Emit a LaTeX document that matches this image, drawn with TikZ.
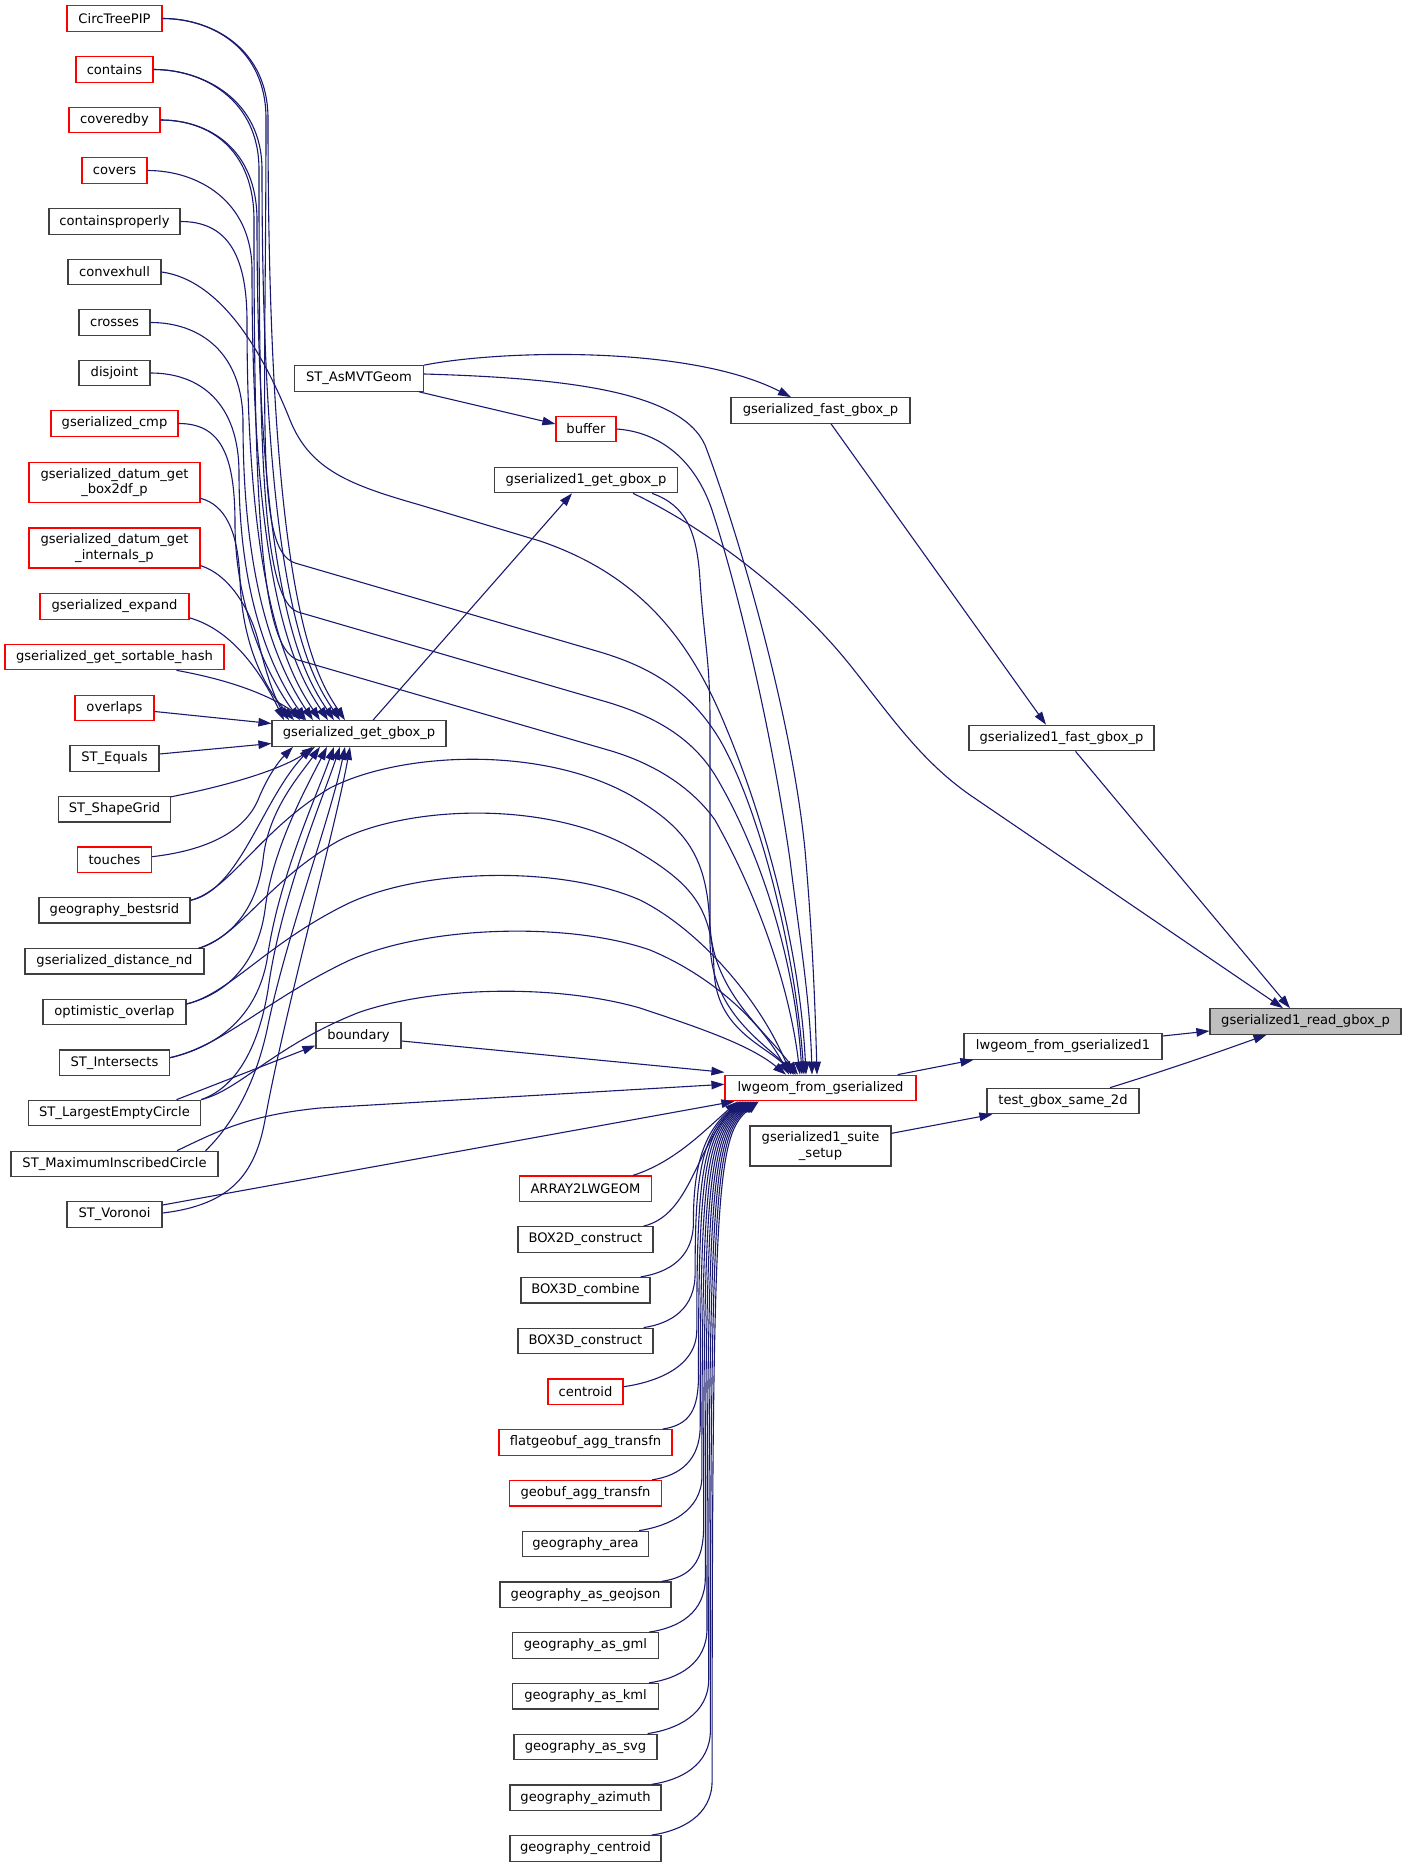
\documentclass[tikz,border=0pt]{standalone}
\usepackage{fontspec}
\setmainfont{DejaVu Sans}
\usetikzlibrary{arrows.meta,calc}
\definecolor{edgecol}{HTML}{191970}
\definecolor{nodeline}{HTML}{404040}
\definecolor{rootfill}{HTML}{BFBFBF}
\definecolor{truncred}{HTML}{FF0000}
\begin{document}
\begin{tikzpicture}[x=1pt,y=-1pt,
 fn/.style={rectangle, draw=nodeline, fill=white, line width=1.2pt, inner sep=0pt,
   minimum height=25.5pt, align=center, font=\fontsize{13.1pt}{15.5pt}\selectfont},
 fnr/.style={fn, draw=truncred},
 fnroot/.style={fn, fill=rootfill},
 two/.style={minimum height=40pt},
 calledge/.style={draw=edgecol, line width=1.1pt, -{Triangle[length=13pt,width=8.5pt]}}]
\useasboundingbox (0,0) rectangle (1407,1867);
% ---------- left column
\node[fnr, minimum width=95pt] (circ) at (114.5,18.5) {CircTreePIP};
\node[fnr, minimum width=77pt] (contains) at (114.5,69.5) {contains};
\node[fnr, minimum width=91pt] (coveredby) at (114.5,120) {coveredby};
\node[fnr, minimum width=65pt] (covers) at (114.5,170.5) {covers};
\node[fn, minimum width=131pt] (cprop) at (114.5,221.5) {containsproperly};
\node[fn, minimum width=93pt] (convex) at (114.5,272) {convexhull};
\node[fn, minimum width=71pt] (crosses) at (114.5,322.5) {crosses};
\node[fn, minimum width=71pt] (disjoint) at (114.5,373) {disjoint};
\node[fnr, minimum width=127pt] (gcmp) at (114.5,423.5) {gserialized\_cmp};
\node[fnr, two, minimum width=171pt] (box2df) at (114.5,482.7) {gserialized\_datum\_get\\\_box2df\_p};
\node[fnr, two, minimum width=171pt] (internals) at (114.5,548) {gserialized\_datum\_get\\\_internals\_p};
\node[fnr, minimum width=149pt] (expand) at (114.5,606.5) {gserialized\_expand};
\node[fnr, minimum width=219pt] (sorthash) at (114.5,657) {gserialized\_get\_sortable\_hash};
\node[fnr, minimum width=79pt] (overlaps) at (114.5,708) {overlaps};
\node[fn, minimum width=89pt] (equals) at (114.5,758.5) {ST\_Equals};
\node[fn, minimum width=112pt] (shapegrid) at (114.5,809.3) {ST\_ShapeGrid};
\node[fnr, minimum width=74pt] (touches) at (114.5,859.7) {touches};
\node[fn, minimum width=151pt] (bestsrid) at (114.5,910.3) {geography\_bestsrid};
\node[fn, minimum width=179pt] (distnd) at (114.5,961.3) {gserialized\_distance\_nd};
\node[fn, minimum width=143pt] (optov) at (114.5,1012) {optimistic\_overlap};
\node[fn, minimum width=110pt] (intersects) at (114.5,1062.7) {ST\_Intersects};
\node[fn, minimum width=172pt] (lec) at (114.5,1113) {ST\_LargestEmptyCircle};
\node[fn, minimum width=207pt] (mic) at (114.5,1164) {ST\_MaximumInscribedCircle};
\node[fn, minimum width=95pt] (voronoi) at (114.5,1214.5) {ST\_Voronoi};
% ---------- second column
\node[fn, minimum width=129pt] (mvt) at (359,378.5) {ST\_AsMVTGeom};
\node[fn, minimum width=174pt] (gbox) at (359,733.5) {gserialized\_get\_gbox\_p};
\node[fn, minimum width=85pt] (boundary) at (358.5,1035.5) {boundary};
% ---------- third column
\node[fnr, minimum width=60pt] (buffer) at (586,429) {buffer};
\node[fn, minimum width=183pt] (g1get) at (586,480) {gserialized1\_get\_gbox\_p};
\node[fnr, minimum width=132pt] (b0) at (585.5,1188.7) {ARRAY2LWGEOM};
\node[fn, minimum width=135pt] (b1) at (585.5,1239.45) {BOX2D\_construct};
\node[fn, minimum width=129pt] (b2) at (585.5,1290.2) {BOX3D\_combine};
\node[fn, minimum width=135pt] (b3) at (585.5,1340.95) {BOX3D\_construct};
\node[fnr, minimum width=75pt] (b4) at (585.5,1391.7) {centroid};
\node[fnr, minimum width=173pt] (b5) at (585.5,1442.45) {flatgeobuf\_agg\_transfn};
\node[fnr, minimum width=152pt] (b6) at (585.5,1493.2) {geobuf\_agg\_transfn};
\node[fn, minimum width=126pt] (b7) at (585.5,1543.95) {geography\_area};
\node[fn, minimum width=171pt] (b8) at (585.5,1594.7) {geography\_as\_geojson};
\node[fn, minimum width=146pt] (b9) at (585.5,1645.45) {geography\_as\_gml};
\node[fn, minimum width=146pt] (b10) at (585.5,1696.2) {geography\_as\_kml};
\node[fn, minimum width=143pt] (b11) at (585.5,1746.95) {geography\_as\_svg};
\node[fn, minimum width=151pt] (b12) at (585.5,1797.7) {geography\_azimuth};
\node[fn, minimum width=151pt] (b13) at (585.5,1848.45) {geography\_centroid};
% ---------- fourth column
\node[fn, minimum width=179pt] (fastg) at (820.5,410.5) {gserialized\_fast\_gbox\_p};
\node[fnr, minimum width=191pt] (lwg) at (820.5,1088) {lwgeom\_from\_gserialized};
\node[fn, two, minimum width=141pt] (suite) at (820.5,1146) {gserialized1\_suite\\\_setup};
% ---------- fifth column
\node[fn, minimum width=185pt] (fast1) at (1061.5,738) {gserialized1\_fast\_gbox\_p};
\node[fn, minimum width=198pt] (lwg1) at (1063,1046.5) {lwgeom\_from\_gserialized1};
\node[fn, minimum width=152pt] (test) at (1063,1101) {test\_gbox\_same\_2d};
% ---------- root
\node[fnroot, minimum width=191pt] (root) at (1305.5,1021.5) {gserialized1\_read\_gbox\_p};

% ================= edges: right part
\draw[calledge] ($(lwg1.east)+(0,-10.5)$) -- ($(root.west)+(0,9.5)$);
\draw[calledge] ($(test.north)+(47,0)$) .. controls (1180,1066) and (1235,1046) .. ($(root.south)+(-39,0)$);
\draw[calledge] ($(fast1.south)+(14,0)$) -- ($(root.north)+(-15.5,0)$);
\draw[calledge] ($(g1get.south)+(47,0)$) .. controls (700,525) and (790,590) .. (850,665)
   .. controls (890,715) and (920,760) .. (970,795) -- ($(root.north)+(-22.5,0)$);
\draw[calledge] ($(fastg.south)+(10.5,0)$) -- ($(fast1.north)+(-15.5,0)$);
\draw[calledge] (mvt.north east) .. controls (500,350) and (690,345) .. ($(fastg.north)+(-29.5,0)$);
\draw[calledge] ($(mvt.south east)+(-5,0)$) -- ($(buffer.west)+(0,-5)$);
\draw[calledge] ($(gbox.north)+(14,0)$) -- ($(g1get.south)+(-14,0)$);
\draw[calledge] ($(lwg.north east)+(-19,0)$) -- ($(lwg1.south west)+(10,0)$);
\draw[calledge] ($(suite.east)+(0,-12.7)$) -- ($(test.south west)+(6,0)$);

% ================= edges into lwgeom_from_gserialized (top)
\draw[calledge] ($(mvt.east)+(0,-4.5)$) .. controls (560,378) and (680,390) .. (705,445)
   .. controls (730,510) and (790,700) .. (805,850) .. controls (812,930) and (815,1000) .. ($(lwg.north)+(-3.5,0)$);
\draw[calledge] (buffer.east) .. controls (660,432) and (695,460) .. (712,510)
   .. controls (735,580) and (770,720) .. (790,860) .. controls (800,940) and (810,1000) .. ($(lwg.north)+(-8.5,0)$);
\draw[calledge] ($(g1get.south)+(66,0)$) .. controls (685,505) and (697,530) .. (700,580)
   .. controls (704,640) and (710,660) .. (710,720) -- (710,920) .. controls (710,990) and (765,1030) .. ($(lwg.north)+(-22.5,0)$);
% A convexhull
\draw[calledge] (convex.east) .. controls (220,280) and (262,350) .. (290,420)
   .. controls (310,470) and (350,485) .. (420,505) -- (540,541)
   .. controls (640,575) and (690,640) .. (725,725) .. controls (765,820) and (800,950) .. ($(lwg.north)+(-14.5,0)$);
% B CircTreePIP
\draw[calledge] (circ.east) .. controls (212,18.5) and (266,48.5) .. (266,118.5)
   .. controls (266,420) and (255,550) .. (295,563) -- (600,652)
   .. controls (650,667) and (690,690) .. (720,740) .. controls (760,810) and (795,950) .. ($(lwg.north)+(-16.5,0)$);
% C contains
\draw[calledge] (contains.east) .. controls (203,69.5) and (259,99.5) .. (259,169.5)
   .. controls (259,450) and (262,600) .. (298,612) -- (600,700)
   .. controls (650,714) and (690,735) .. (715,775) .. controls (760,850) and (795,960) .. ($(lwg.north)+(-18.5,0)$);
% D coveredby
\draw[calledge] (coveredby.east) .. controls (210,120) and (254,150) .. (254,220)
   .. controls (254,500) and (260,648) .. (298,660) -- (608,750)
   .. controls (650,762) and (690,785) .. (715,820) .. controls (760,900) and (790,990) .. ($(lwg.north)+(-20.5,0)$);
% L1..L5
\draw[calledge] ($(bestsrid.east)+(0,-10)$) .. controls (230,890) and (260,830) .. (330,788)
   .. controls (400,752) and (540,745) .. (630,795) .. controls (690,830) and (710,860) .. (710,940)
   .. controls (710,1010) and (760,1040) .. ($(lwg.north)+(-24.5,0)$);
\draw[calledge] ($(distnd.east)+(-6,-13)$) .. controls (238,938) and (268,880) .. (340,840)
   .. controls (410,805) and (550,800) .. (635,850) .. controls (695,885) and (712,910) .. (714,970)
   .. controls (716,1030) and (765,1045) .. ($(lwg.north)+(-26.5,0)$);
\draw[calledge] ($(optov.east)+(0,-8)$) .. controls (230,993) and (265,945) .. (345,905)
   .. controls (420,868) and (560,865) .. (640,900) .. controls (700,930) and (760,1000) .. ($(lwg.north)+(-29.5,0)$);
\draw[calledge] ($(intersects.east)+(0,-5)$) .. controls (225,1045) and (265,1000) .. (350,960)
   .. controls (430,925) and (570,922) .. (650,950) .. controls (710,975) and (760,1020) .. ($(lwg.north)+(-31.5,0)$);
\draw[calledge] (lec.north east) .. controls (240,1090) and (275,1045) .. (360,1012)
   .. controls (440,985) and (560,985) .. (640,1008) .. controls (700,1028) and (750,1045) .. ($(lwg.north)+(-34.5,0)$);
% left side into lwgeom
\draw[calledge] ($(boundary.east)+(0,5.5)$) -- ($(lwg.west)+(0,-15.7)$);
\draw[calledge] ($(mic.north)+(62.5,0)$) .. controls (220,1130) and (250,1115) .. (320,1108) -- ($(lwg.west)+(0,-3.7)$);
\draw[calledge] ($(voronoi.east)+(0,-9.5)$) -- ($(lwg.south west)+(10,0)$);
\draw[calledge] ($(lec.north)+(62,0)$) -- ($(boundary.west)+(0,10)$);

% ================= edges into gserialized_get_gbox_p (top)
\draw[calledge] (circ.east) .. controls (212,18.5) and (268,48.5) .. (268,118.5) .. controls (268,600) and (315,675) .. ($(gbox.north)+(-14,0)$);
\draw[calledge] (contains.east) .. controls (203,69.5) and (262,99.5) .. (262,169.5) .. controls (262,600) and (310,675) .. ($(gbox.north)+(-19,0)$);
\draw[calledge] (coveredby.east) .. controls (210,120) and (257,150) .. (257,220) .. controls (257,600) and (304,675) .. ($(gbox.north)+(-25,0)$);
\draw[calledge] (covers.east) .. controls (197.5,170.5) and (252,200.5) .. (252,270.5) .. controls (252,600) and (298,675) .. ($(gbox.north)+(-31,0)$);
\draw[calledge] (cprop.east) .. controls (225,221.5) and (247,251.5) .. (247,321.5) .. controls (247,600) and (290,675) .. ($(gbox.north)+(-39,0)$);
\draw[calledge] (crosses.east) .. controls (200,322.5) and (243,352.5) .. (243,422.5) .. controls (243,600) and (283,675) .. ($(gbox.north)+(-46,0)$);
\draw[calledge] (disjoint.east) .. controls (200,373) and (239,403) .. (239,473) .. controls (239,605) and (276,677) .. ($(gbox.north)+(-53,0)$);
\draw[calledge] (gcmp.east) .. controls (220,423.5) and (235,453.5) .. (235,523.5) .. controls (235,610) and (270,680) .. ($(gbox.north)+(-59,0)$);
\draw[calledge] ($(box2df.south east)+(0,-5)$) .. controls (225,505) and (238,530) .. (240,580) .. controls (242,640) and (262,685) .. ($(gbox.north)+(-65,0)$);
\draw[calledge] ($(internals.south east)+(0,-3)$) .. controls (230,575) and (250,610) .. (258,640) .. controls (265,670) and (275,700) .. ($(gbox.north)+(-70,0)$);
\draw[calledge] ($(expand.south east)+(0,-2)$) .. controls (225,628) and (255,660) .. ($(gbox.north)+(-75,0)$);
\draw[calledge] ($(sorthash.south)+(62,0)$) .. controls (230,680) and (270,695) .. ($(gbox.north)+(-54,0)$);
\draw[calledge] ($(overlaps.east)+(0,3.5)$) -- ($(gbox.west)+(0,-10)$);
\draw[calledge] ($(equals.east)+(0,-4.5)$) -- ($(gbox.west)+(0,10)$);
% bottom
\draw[calledge] ($(shapegrid.east)+(0,-12.5)$) .. controls (230,785) and (280,770) .. ($(gbox.south)+(-44,0)$);
\draw[calledge] ($(touches.east)+(0,-3)$) .. controls (210,850) and (245,830) .. (258,800) .. controls (268,775) and (280,760) .. ($(gbox.south)+(-66,0)$);
\draw[calledge] ($(bestsrid.east)+(0,-10)$) .. controls (240,890) and (262,800) .. ($(gbox.south)+(-47,0)$);
\draw[calledge] ($(distnd.east)+(-6,-13)$) .. controls (238,935) and (258,900) .. (263,860) .. controls (268,810) and (300,775) .. ($(gbox.south)+(-39,0)$);
\draw[calledge] ($(optov.east)+(0,-8)$) .. controls (230,993) and (258,960) .. (265,910) .. controls (272,850) and (305,790) .. ($(gbox.south)+(-32,0)$);
\draw[calledge] ($(intersects.east)+(0,-5)$) .. controls (225,1045) and (258,1010) .. (267,960) .. controls (278,880) and (315,800) .. ($(gbox.south)+(-25,0)$);
\draw[calledge] (lec.north east) .. controls (235,1088) and (258,1050) .. (268,990) .. controls (280,900) and (322,800) .. ($(gbox.south)+(-19,0)$);
\draw[calledge] ($(mic.north east)+(-13,0)$) .. controls (232,1125) and (255,1085) .. (267,1030) .. controls (285,940) and (330,820) .. ($(gbox.south)+(-14,0)$);
\draw[calledge] ($(voronoi.east)+(0,-1.5)$) .. controls (230,1205) and (255,1175) .. (265,1120) .. controls (285,1010) and (335,830) .. ($(gbox.south)+(-9,0)$);

% ================= bottom column into lwgeom (bottom)
\draw[calledge] ($(b0.north east)+(-19,0)$) .. controls (675,1162) and (705,1130) .. ($(lwg.south)+(-82.5,0)$);
\draw[calledge] ($(b1.north east)+(-10,0)$) .. controls (690,1215) and (695,1150) .. ($(lwg.south)+(-80.9,0)$);
\draw[calledge] ($(b2.north east)+(-10,0)$) .. controls (669,1272.5) and (693.4,1257.5) .. (693.4,1222.5) .. controls (693.4,1180) and (698.4,1135) .. ($(lwg.south)+(-79.3,0)$);
\draw[calledge] ($(b3.north east)+(-10,0)$) .. controls (672,1323.3) and (695.1,1308.3) .. (695.1,1273.3) .. controls (695.1,1180) and (700.1,1135) .. ($(lwg.south)+(-77.7,0)$);
\draw[calledge] ($(b4.east)+(0,-5)$) .. controls (650,1383) and (696.8,1370) .. (696.8,1330) .. controls (696.8,1180) and (701.8,1135) .. ($(lwg.south)+(-76.1,0)$);
\draw[calledge] ($(b5.north east)+(-10,0)$) .. controls (690,1424.8) and (698.5,1409.8) .. (698.5,1374.8) .. controls (698.5,1180) and (703.5,1135) .. ($(lwg.south)+(-74.5,0)$);
\draw[calledge] ($(b6.north east)+(-10,0)$) .. controls (680,1475.5) and (700.2,1460.5) .. (700.2,1425.5) .. controls (700.2,1180) and (705.2,1135) .. ($(lwg.south)+(-72.9,0)$);
\draw[calledge] ($(b7.north east)+(-10,0)$) .. controls (668,1526.3) and (701.9,1511.3) .. (701.9,1476.3) .. controls (701.9,1180) and (706.9,1135) .. ($(lwg.south)+(-71.3,0)$);
\draw[calledge] ($(b8.north east)+(-10,0)$) .. controls (691,1577) and (703.6,1562) .. (703.6,1527) .. controls (703.6,1180) and (708.6,1135) .. ($(lwg.south)+(-69.7,0)$);
\draw[calledge] ($(b9.north east)+(-10,0)$) .. controls (678.7,1627.8) and (705.3,1612.8) .. (705.3,1577.8) .. controls (705.3,1180) and (710.3,1135) .. ($(lwg.south)+(-68.1,0)$);
\draw[calledge] ($(b10.north east)+(-10,0)$) .. controls (678.7,1678.5) and (707,1663.5) .. (707,1628.5) .. controls (707,1180) and (712,1135) .. ($(lwg.south)+(-66.5,0)$);
\draw[calledge] ($(b11.north east)+(-10,0)$) .. controls (677,1729.3) and (708.7,1714.3) .. (708.7,1679.3) .. controls (708.7,1180) and (713.7,1135) .. ($(lwg.south)+(-64.9,0)$);
\draw[calledge] ($(b12.north east)+(-10,0)$) .. controls (681,1780) and (710.4,1765) .. (710.4,1730) .. controls (710.4,1180) and (715.4,1135) .. ($(lwg.south)+(-63.3,0)$);
\draw[calledge] ($(b13.north east)+(-10,0)$) .. controls (681,1830.8) and (712.1,1815.8) .. (712.1,1780.8) .. controls (712.1,1180) and (717.1,1135) .. ($(lwg.south)+(-61.7,0)$);
\end{tikzpicture}
\end{document}
